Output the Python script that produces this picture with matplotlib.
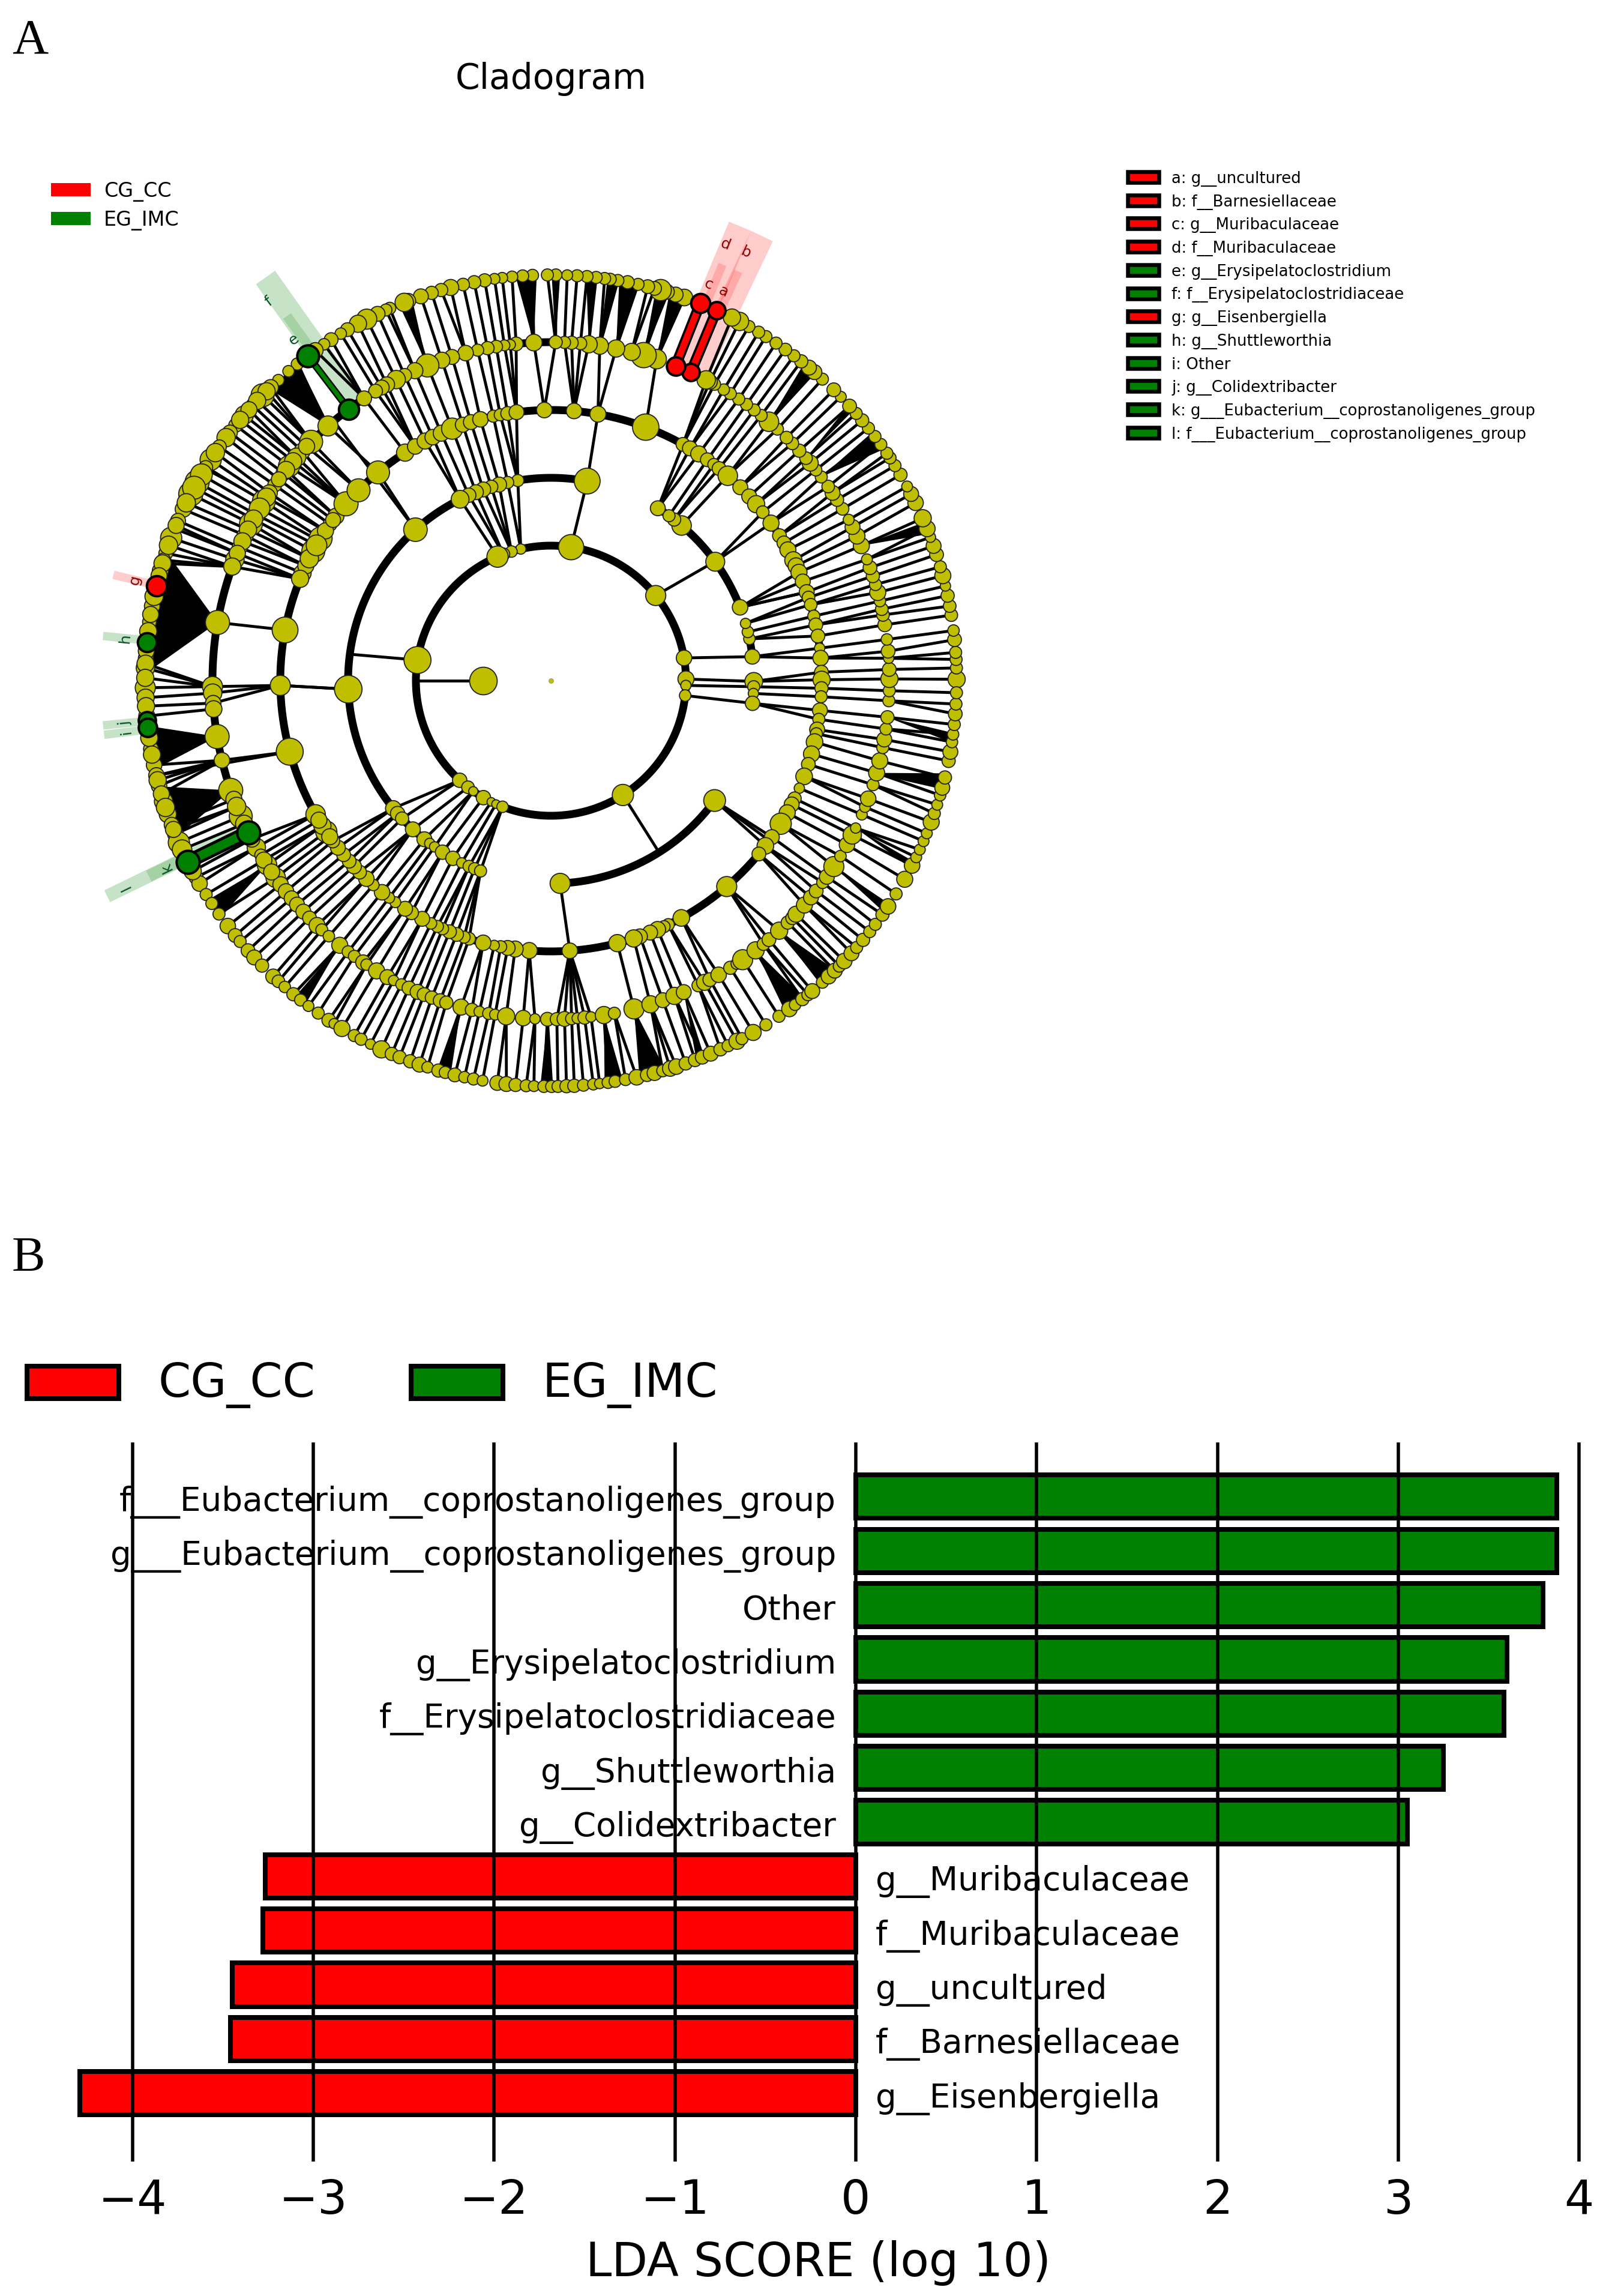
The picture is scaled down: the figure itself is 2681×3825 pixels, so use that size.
import numpy as np
import matplotlib
matplotlib.use('Agg')
import matplotlib.pyplot as plt
from matplotlib.patches import Polygon, Rectangle

W, H = 2681, 3825
DPI = 100
PT = 72 / DPI  # pixels to points
SIZE_SCALE = 1 / 2.09

# ---- bar chart data
bar_labels = ['g__Eisenbergiella', 'f__Barnesiellaceae', 'g__uncultured', 'f__Muribaculaceae', 'g__Muribaculaceae',
              'g__Colidextribacter', 'g__Shuttleworthia', 'f__Erysipelatoclostridiaceae', 'g__Erysipelatoclostridium',
              'Other', 'g___Eubacterium__coprostanoligenes_group', 'f___Eubacterium__coprostanoligenes_group']
bar_values = [-4.29, -3.46, -3.45, -3.28, -3.265, 3.05, 3.25, 3.585, 3.60, 3.80, 3.875, 3.875]
x_ticks = [-4, -3, -2, -1, 0, 1, 2, 3, 4]

# ---- cladogram legend
legend_rows = [('a: g__uncultured', 'r'), ('b: f__Barnesiellaceae', 'r'), ('c: g__Muribaculaceae', 'r'),
               ('d: f__Muribaculaceae', 'r'), ('e: g__Erysipelatoclostridium', 'g'),
               ('f: f__Erysipelatoclostridiaceae', 'g'), ('g: g__Eisenbergiella', 'r'), ('h: g__Shuttleworthia', 'g'),
               ('i: Other', 'g'), ('j: g__Colidextribacter', 'g'), ('k: g___Eubacterium__coprostanoligenes_group', 'g'),
               ('l: f___Eubacterium__coprostanoligenes_group', 'g')]

# ---- cladogram nodes, (angle in degrees, node radius)
ring_radius = [0, 113, 225, 338, 451, 564, 676]

ring1_nodes = [(180, 48)]
ring2_nodes = [(81.4, 44), (39.1, 35), (9.7, 27), (0.7, 28), (-2, 18), (-6.3, 20), (-57.8, 37), (227.5, 25), (232.1, 22),
               (234.9, 16), (240, 25), (243.8, 15), (246, 15), (249, 20), (102.9, 18), (107, 20), (110.6, 22), (113.3, 37),
               (171.2, 47)]
ring3_nodes = [(79.7, 44), (99.4, 18), (102.3, 18), (104.8, 25), (107.1, 20), (109.5, 25), (111.7, 25), (113.9, 22),
               (116.6, 30), (131.9, 40), (182.4, 47), (219, 26), (220.9, 22), (222.8, 20), (227.1, 25), (231.4, 25),
               (233.3, 15), (235, 15), (237.7, 22), (241.1, 22), (243.9, 15), (246.2, 18), (247.9, 18), (249.7, 18),
               (272.6, 34), (323.8, 37), (-0.2, 30), (-1.7, 18), (-3.6, 15), (-6.4, 22), (6.8, 25), (11.9, 17), (13.9, 17),
               (16.4, 15), (21.2, 26), (35.9, 32), (49.9, 33), (52.6, 20), (54.4, 18), (58.2, 25)]
ring4_nodes = [(91.4, 25), (85.1, 25), (80, 26), (69.5, 44), (60.8, 18), (59.1, 20), (56.9, 22), (54.7, 18), (53, 15),
               (51.6, 18), (49.2, 32), (45.6, 20), (42.9, 20), (40.7, 24), (38.5, 16), (35.6, 22), (32.4, 18), (30.6, 18),
               (28.9, 22), (26.4, 28), (25.1, 22), (23.6, 22), (21.5, 20), (19.1, 20), (17.9, 16), (16.3, 16), (13.8, 15),
               (11.9, 18), (9.5, 18), (6.9, 12), (4.8, 25), (1.8, 18), (0.2, 28), (-1.6, 17), (-3.4, 15), (-6.3, 20),
               (-8.2, 15), (-10.4, 20), (-11.3, 15), (-13.1, 23), (-15.7, 22), (-18, 18), (-20.7, 27), (-23.4, 12),
               (-25.8, 17), (-27.2, 20), (-29.2, 22), (-31.9, 35), (-35.3, 20), (-37.6, 23), (-39.8, 18), (-49.5, 33),
               (-61.2, 27), (-64.3, 15), (-65.3, 15), (-66.8, 22), (-68.5, 20), (-70.8, 20), (-72.2, 28), (-75.8, 28),
               (-86, 25), (265.4, 22), (262.4, 22), (260.8, 20), (259.3, 15), (257.9, 12), (255.5, 25), (252.4, 16),
               (251.3, 15), (249.6, 18), (248, 18), (246.4, 15), (245.2, 15), (243.7, 14), (241.6, 20), (239, 18),
               (237.4, 20), (234.9, 13), (233.3, 13), (231.4, 25), (229, 14), (227, 25), (225, 18), (223.3, 20), (221.8, 18),
               (220, 18), (218.1, 20), (216.3, 18), (213.9, 35), (209.6, 32), (195.2, 45), (181, 33), (169.2, 43),
               (156.6, 28), (154.9, 22), (151.4, 38), (148.9, 30), (148.3, 38), (144.7, 18), (142.6, 22), (139.2, 40),
               (135.3, 38), (129.7, 38), (122.6, 28), (120.1, 25), (117.7, 22), (115.9, 25), (113.9, 22), (111.4, 35),
               (109, 20), (107.2, 20), (105.1, 25), (102.3, 15), (100.8, 15), (99.2, 18), (97.3, 20),
               (146.4, 26), (153.2, 30), (157.9, 24), (150, 34), (143.6, 20), (212.4, 24), (215.2, 22), (211, 26)]
ring5_nodes = [(92.9, 27), (95.9, 18), (96.9, 12), (97.9, 13), (99.3, 16), (100.8, 17), (102.5, 15), (104.6, 25), (107, 20),
               (108.8, 22), (111.4, 38), (113.7, 22), (115.6, 18), (117.2, 30), (119, 25), (120, 20), (121.2, 18), (123.5, 20),
               (131.2, 33), (135.1, 38), (137.3, 22), (138.7, 30), (140.7, 35), (142.2, 20), (144.7, 18), (146.3, 22),
               (148, 38), (150.6, 30), (152.4, 38), (154.6, 22), (156.8, 20), (159, 30), (170.1, 40), (181, 33), (182.1, 30),
               (183.8, 25), (184.8, 23), (189.5, 40), (193.6, 25), (198.9, 40), (203.6, 38), (209.5, 30), (211, 15), (213, 32),
               (215.6, 32), (217, 25), (218.5, 25), (220, 20), (221.4, 20), (223, 20), (224.5, 18), (226.3, 22), (227.4, 15),
               (229, 14), (231.4, 26), (233.2, 15), (234.5, 15), (236.3, 20), (237, 14), (239, 22), (241.1, 20), (242.3, 12),
               (243.8, 14), (245.2, 18), (246.8, 20), (248, 18), (249.4, 17), (250.9, 18), (252, 17), (254.6, 26), (256.5, 17),
               (257.8, 13), (259.4, 15), (260.5, 13), (262.4, 24), (265.3, 25), (267.3, 12), (269.4, 18), (271, 17), (272.3, 20),
               (273.5, 15), (274.5, 13), (275.7, 17), (276.8, 12), (279, 24), (280.8, 15), (284.2, 33), (287.1, 24), (289.3, 20),
               (291.4, 24), (293.1, 20), (295.8, 16), (297, 22), (298, 18), (299.7, 25), (302, 17), (303.3, 14), (304.5, 33),
               (307.2, 28), (308.9, 16), (310.1, 18), (312.4, 28), (314.4, 17), (315.5, 17), (316.4, 22), (318.5, 22),
               (320.2, 20), (321.6, 18), (323.4, 15), (324.6, 20), (326.7, 33), (328.8, 14), (331, 25), (332.9, 30), (334.2, 12),
               (336.7, 13), (338.1, 13), (339.6, 25), (342.1, 15), (344.2, 22), (346.3, 22), (348.6, 15), (350, 20), (351.8, 15),
               (353.8, 17), (356.6, 15), (358.3, 15), (0.3, 28), (1.9, 18), (3.8, 12), (5, 18), (7, 14), (9.5, 18), (11.2, 16),
               (12.2, 16), (13.6, 14), (15.1, 22), (16.5, 15), (18, 17), (19.5, 18), (21, 13), (23.5, 22), (25.3, 22), (27, 20),
               (28.4, 13), (30.5, 16), (32.3, 17), (33.7, 20), (35, 16), (37, 15), (38.5, 15), (40, 22), (41.1, 16), (42.8, 17),
               (44.5, 16), (45.9, 16), (48, 15), (49.9, 32), (51.6, 15), (53.1, 15), (54.7, 15), (56.3, 15), (58, 15), (59.3, 14),
               (61.1, 15), (62, 20), (62.7, 30), (71.8, 32), (74.1, 42), (76.2, 28), (78.9, 24), (81.7, 24), (83.6, 24), (85, 16),
               (86.5, 17), (87.7, 15), (89.2, 17),
               (136.2, 26), (139.6, 24), (141.5, 28), (143.5, 20), (147.2, 30), (149.4, 34), (151.5, 30), (153.5, 28),
               (155.7, 24), (157.9, 26), (160.3, 24), (200.5, 26), (201.8, 30), (205, 28), (207.9, 26), (212, 22), (214.4, 26)]
ring6_nodes = [(0.2, 28), (1.8, 15), (3, 15), (4, 15), (5.8, 18), (7.1, 14), (9.3, 16), (10.6, 16), (12.1, 17), (13.5, 12),
               (15, 22), (16.3, 15), (18.1, 18), (19.4, 20), (20.7, 12), (22, 22), (23.6, 24), (26, 25), (27.4, 20), (28.6, 13),
               (30.5, 17), (32, 15), (33.3, 15), (34.1, 15), (35.6, 15), (37, 15), (38.5, 15), (39.9, 17), (41.2, 15), (42.6, 18),
               (44.4, 13), (45.8, 18), (48, 15), (49.5, 20), (50.5, 20), (51.9, 17), (53.2, 15), (54.7, 16), (56.3, 15), (58, 15),
               (59.2, 15), (60.8, 15), (62.3, 30), (63.5, 28), (70.8, 23), (72.1, 20), (73.4, 20), (74.3, 35), (75.2, 18),
               (76.2, 18), (77.6, 15), (79.1, 17), (80.5, 15), (81.6, 15), (82.4, 15), (83.6, 15), (84.9, 15), (86.3, 15),
               (87.7, 13), (89.3, 15), (90.5, 15), (92.6, 15), (94, 15), (95.5, 14), (96.9, 13), (98, 13), (99.4, 17), (100.9, 17),
               (102.5, 16), (104.3, 22), (105.7, 17), (107.1, 17), (108.7, 20), (110.6, 20), (111.2, 30), (113.4, 15), (114, 15),
               (115.3, 20), (117, 33), (118.4, 28), (120.1, 18), (121.2, 14), (122.8, 18), (124, 14), (125.5, 25), (128.7, 15),
               (130.3, 14), (132.2, 14), (133.7, 25), (135.3, 38), (137.3, 18), (139.1, 30), (141, 18), (142.3, 20), (143.2, 30),
               (144.8, 18), (147, 35), (148.3, 18), (150.7, 40), (152.6, 40), (155, 22), (156.8, 20), (158, 16), (159.4, 35),
               (161.7, 18), (162.7, 18), (164.3, 22), (169.4, 25), (171.7, 18), (176.8, 20), (178.2, 30), (181, 33), (182.4, 28),
               (185, 22), (189.7, 20), (191, 15), (192, 25), (193.5, 25), (195, 25), (197.3, 30), (199.2, 28), (200.8, 20),
               (202.2, 25), (203.5, 35), (209, 18), (210, 25), (211.8, 15), (213.3, 15), (215.1, 15), (217.2, 25), (218.9, 18),
               (220, 15), (221.7, 18), (223, 20), (224.6, 17), (226.8, 20), (227.8, 16), (229, 14), (230.6, 17), (231.9, 15),
               (233.3, 13), (235, 15), (236.8, 18), (237.7, 12), (239, 22), (241, 15), (242.1, 15), (243.6, 12), (245.3, 24),
               (246.9, 17), (248.1, 17), (249.7, 17), (251.1, 20), (252.3, 14), (253.9, 17), (254.9, 15), (256.3, 18), (257.7, 14),
               (259, 15), (260.3, 13), (262.4, 20), (263.7, 20), (265, 17), (266.5, 15), (267.6, 13), (269, 15), (270.1, 15),
               (271, 15), (272.2, 17), (273.3, 17), (274.6, 15), (276, 14), (276.9, 12), (278.1, 15), (279.1, 15), (280.6, 15),
               (282.2, 25), (283.7, 17), (284.8, 20), (286, 15), (287.1, 25), (288, 25), (289.4, 17), (290.8, 17), (291.9, 18),
               (293.2, 20), (294.7, 17), (295.9, 15), (297.3, 22), (298.1, 15), (299.9, 22), (302, 15), (304.2, 15), (306, 25),
               (307, 14), (308.3, 17), (309.3, 15), (310.1, 20), (312, 15), (313.2, 20), (314.4, 20), (315.3, 15), (316.3, 25),
               (317.8, 20), (318.9, 15), (320.3, 17), (321.8, 15), (323.1, 15), (324.8, 17), (326.2, 25), (328.3, 15), (330.7, 22),
               (332.9, 25), (334.2, 13), (335.4, 13), (336.7, 13), (337.9, 13), (339.6, 22), (340.9, 15), (342.2, 13), (343.6, 14),
               (344.7, 20), (346.2, 17), (348.6, 17), (349.9, 20), (351.3, 14), (352.4, 14), (353.8, 15), (355.3, 18), (356.7, 15),
               (358.3, 15),
               (134.5, 28), (136.4, 24), (138.1, 26), (140, 28), (145.8, 30), (149.5, 36), (151.6, 38), (154, 30), (157.5, 26),
               (160.5, 30), (163.2, 28), (165, 26), (168, 30), (170.6, 26), (173, 28), (175.8, 26), (177.6, 24), (179.6, 28),
               (183.6, 24), (188.1, 28), (190.5, 24), (194.2, 28), (196.2, 26), (198.2, 30), (201.5, 26), (204.6, 32), (208, 28)]

# parent -> child pairs between ring 2 and ring 3
ring2_to_ring3 = [(81.4, 79.7), (9.7, 6.8), (0.7, -0.2), (-2, -1.7), (-6.3, -6.4), (113.3, 116.6), (110.6, 113.9), (110.6, 111.7),
                  (107, 109.5), (107, 107.1), (107, 104.8), (102.9, 102.3), (102.9, 99.4), (39.1, 36), (171.2, 172.5),
                  (-57.8, -57.8), (227.5, 219), (227.5, 222.8), (232.1, 227.1), (234.9, 231.4), (234.9, 235), (240, 237.7),
                  (243.8, 241.1), (246, 243.9), (249, 246.2), (249, 247.9), (249, 249.7)]
# links that skip a ring or end on an arc: (ring, angle, ring, angle)
extra_links = [(1, 180, 2, 180), (3, -36.2, 4, -36.2), (3, 131.9, 5, 129.9), (4, 195.2, 6, 193.5), (3, 21.2, 4, 19.1),
               (3, 182.4, 4, 181)]
# black arcs: (ring, start angle, end angle)
arcs = [(2, 0, 360), (3, 21.2, 58.2), (3, 79.7, 249.7), (3, 272.6, 323.8), (3, -6.4, 0), (3, 6.8, 16.4), (4, 4.8, 320.2),
        (5, 72, 206.6)]
# black fans from a ring 5 node: (parent angle, first child angle, last child angle)
fans = [(170.1, 161.5, 179), (131.2, 128.4, 134), (189.5, 186.4, 192.6), (198.9, 195.1, 202.7), (89.2, 88.7, 89.9),
        (83.6, 83.4, 85), (81.7, 80.5, 82), (78.9, 77.8, 80.3), (74.1, 73, 75), (71.8, 71, 73), (49.9, 49.5, 51.4),
        (37, 34.8, 37.7), (41.1, 41.8, 42.8), (23.5, 21.2, 23), (353.8, 351.2, 352.6), (344.2, 344.6, 346.8),
        (334.2, 332.5, 333.5), (326.7, 325.2, 326.6), (312.4, 311.6, 314.5), (307.2, 305.3, 308.6), (293.1, 291, 292.2),
        (284.2, 282.6, 286.4), (279, 277.6, 280.2), (269.4, 268.5, 270), (254.6, 254, 255.7), (231.4, 231, 232.8),
        (213, 212.6, 215.6), (111.4, 110, 112), (148, 148, 148.7), (92.9, 92, 95)]
# highlighted clades: (ring, angle, colour, node radius)
marked_nodes = [(5, 65.6, 'red', 30), (5, 68.4, 'red', 32), (6, 65.9, 'red', 30), (6, 68.4, 'red', 33),
                (5, 126.7, 'green', 35), (6, 126.8, 'green', 38), (6, 166.5, 'red', 35), (6, 174.6, 'green', 33),
                (6, 185.6, 'green', 30), (6, 186.6, 'green', 32), (5, 206.6, 'green', 40), (6, 206.5, 'green', 40)]
marked_links = [(65.6, 65.9, 'red', 18), (68.4, 68.4, 'red', 18), (126.7, 126.8, 'green', 12), (206.6, 206.5, 'green', 24)]
# shaded bands: (label, band angle, inner radius, outer radius, width, colour, alpha, label angle, label radius)
bands = [('b', 64.6, 564, 820, 40, 'red', 0.2, 65.5, 784), ('d', 67.4, 564, 820, 40, 'red', 0.2, 68.2, 782),
         ('a', 65.4, 676, 750, 14, 'red', 0.17, 66.1, 709), ('c', 67.6, 676, 750, 14, 'red', 0.17, 68.3, 710),
         ('f', 125.3, 564, 823, 39, 'green', 0.22, 126.7, 787), ('e', 125.9, 676, 750, 16, 'green', 0.17, 127, 712),
         ('g', 166.4, 676, 750, 14, 'red', 0.2, 166.4, 713), ('h', 174.3, 676, 750, 14, 'green', 0.22, 174.3, 713),
         ('i', 186.9, 676, 750, 14, 'green', 0.22, 186.9, 713), ('j', 185.7, 676, 750, 14, 'green', 0.22, 185.7, 713),
         ('l', 205.9, 564, 822, 22, 'green', 0.22, 205.9, 787), ('k', 205.9, 676, 745, 20, 'green', 0.17, 205.9, 712)]


def polar(r, a):
    a = np.radians(a)
    return r * np.cos(a), r * np.sin(a)


def angle_gap(a, b):
    return abs((a - b + 180) % 360 - 180)


def link(ax, r1, a1, r2, a2, lw=4.8, color='black', z=2):
    x1, y1 = polar(r1, a1)
    x2, y2 = polar(r2, a2)
    ax.plot([x1, x2], [y1, y2], color=color, lw=lw * PT, zorder=z, solid_capstyle='butt')


def link_to_nearest(ax, children, parents, r_child, r_parent, limit):
    parent_angles = [p[0] for p in parents]
    for a, _ in children:
        gaps = [angle_gap(a, p) for p in parent_angles]
        i = int(np.argmin(gaps))
        if gaps[i] <= limit:
            link(ax, r_parent, parent_angles[i], r_child, a)


def draw_nodes(ax, nodes, r, pad=0):
    ang = np.array([n[0] for n in nodes])
    size = np.array([n[1] for n in nodes], dtype=float)
    # small nodes read a little under their drawn size in the crops
    size = np.where(size < 25, size + pad, size + pad / 3) * SIZE_SCALE
    x, y = polar(r, ang)
    ax.scatter(x, y, s=(2 * size * PT) ** 2, c='#bfbf00', edgecolors='#222222', linewidths=1.8 * PT, zorder=5)


fig = plt.figure(figsize=(W / DPI, H / DPI), dpi=DPI)

# Cladogram, one data unit is one pixel, origin at the tree root
ax = fig.add_axes([0, 1 - 2060 / H, 1, 2060 / H])
ax.set_xlim(-918, W - 918)
ax.set_ylim(1134 - 2060, 1134)
ax.axis('off')

for ring, a, b in arcs:
    t = np.radians(np.linspace(a, b, 400))
    ax.plot(ring_radius[ring] * np.cos(t), ring_radius[ring] * np.sin(t), color='black', lw=13 * PT, zorder=3,
            solid_capstyle='butt')

for parent, a, b in fans:
    pts = [polar(564, parent), polar(676, a), polar(676, b)]
    ax.add_patch(Polygon(pts, closed=True, color='black', lw=0, zorder=2))

link_to_nearest(ax, ring6_nodes, ring5_nodes, 676, 564, 3.5)
link_to_nearest(ax, ring5_nodes, ring4_nodes, 564, 451, 3)
link_to_nearest(ax, ring4_nodes, ring3_nodes, 451, 338, 3)
for p, c in ring2_to_ring3:
    link(ax, 225, p, 338, c)
for r1, a1, r2, a2 in extra_links:
    link(ax, ring_radius[r1], a1, ring_radius[r2], a2)

for label, a, r0, r1, w, col, alpha, a_text, r_text in bands:
    x0, y0 = polar(r0, a)
    x1, y1 = polar(r1, a)
    nx, ny = polar(w / 2, a + 90)
    ax.add_patch(Polygon([(x0 + nx, y0 + ny), (x1 + nx, y1 + ny), (x1 - nx, y1 - ny), (x0 - nx, y0 - ny)], closed=True,
                         facecolor=col, edgecolor='none', alpha=alpha, zorder=1))
    tx, ty = polar(r_text, a_text)
    ax.text(tx, ty, label, rotation=a_text - 90, rotation_mode='anchor', ha='center', va='center', fontsize=18,
            color='#8b0000' if col == 'red' else '#005020', zorder=6)

for a_in, a_out, col, w in marked_links:
    link(ax, 564, a_in, 676, a_out, lw=w, color='black', z=6)
    link(ax, 564, a_in, 676, a_out, lw=w * 0.6, color=col, z=6)

draw_nodes(ax, ring1_nodes, ring_radius[1])
draw_nodes(ax, ring2_nodes, ring_radius[2])
draw_nodes(ax, ring3_nodes, ring_radius[3], pad=3)
draw_nodes(ax, ring4_nodes, ring_radius[4], pad=6)
draw_nodes(ax, ring5_nodes, ring_radius[5], pad=6)
draw_nodes(ax, ring6_nodes, ring_radius[6], pad=6)
ax.scatter([0], [0], s=(8 * PT) ** 2, c='#bfbf00', edgecolors='#888888', linewidths=0.5, zorder=5)

for ring, a, col, size in marked_nodes:
    x, y = polar(ring_radius[ring], a)
    ax.scatter([x], [y], s=(2 * size * SIZE_SCALE * PT) ** 2, c=col, edgecolors='black', linewidths=4 * PT, zorder=7)

# LDA bar chart
bx = fig.add_axes([0, 1 - 3601 / H, 1, (3601 - 2403) / H])
bx.set_xlim((0 - 1426) / 301.3, (W - 1426) / 301.3)
bx.set_ylim(-1.26, 12.0)
ypos = np.arange(len(bar_values))
bar_colors = ['red' if v < 0 else 'green' for v in bar_values]
bx.barh(ypos, bar_values, height=0.8, color=bar_colors, edgecolor='black', linewidth=8 * PT, zorder=2)
bx.set_xticks(x_ticks)
bx.set_yticks([])
bx.tick_params(axis='x', length=0, labelsize=56, pad=27 * PT)
bx.grid(axis='x', color='black', lw=5.5 * PT, zorder=3)
bx.set_axisbelow(False)
for side in bx.spines.values():
    side.set_visible(False)
bx.patch.set_alpha(0)
for y, v, name in zip(ypos, bar_values, bar_labels):
    if v < 0:
        bx.text(33 / 301.3, y - 0.1, name, ha='left', va='center', fontsize=39.5, zorder=4)
    else:
        bx.text(-33 / 301.3, y - 0.1, name, ha='right', va='center', fontsize=39.5, zorder=4)

# Titles and legends, placed in pixel coordinates
over = fig.add_axes([0, 0, 1, 1])
over.set_xlim(0, W)
over.set_ylim(H, 0)
over.axis('off')
over.text(20, 69, 'A', family='Liberation Serif', fontsize=60, va='center')
over.text(20, 2097, 'B', family='Liberation Serif', fontsize=60, va='center')
over.text(918, 132, 'Cladogram', ha='center', va='center', fontsize=42)

over.add_patch(Rectangle((85, 305), 66, 22, color='red', lw=0))
over.add_patch(Rectangle((85, 353), 66, 22, color='green', lw=0))
over.text(173, 320, 'CG_CC', va='center', fontsize=24)
over.text(173, 368, 'EG_IMC', va='center', fontsize=24)

for i, (row, col) in enumerate(legend_rows):
    y = 295 + i * 38.7
    over.add_patch(Rectangle((1879, y - 9), 52, 18, facecolor='red' if col == 'r' else 'green', edgecolor='black',
                             lw=6.5 * PT))
    over.text(1952, y + 3, row, va='center', fontsize=18.75)

over.add_patch(Rectangle((45, 2276), 153, 54, facecolor='red', edgecolor='black', lw=8 * PT))
over.add_patch(Rectangle((685, 2276), 153, 54, facecolor='green', edgecolor='black', lw=8 * PT))
over.text(264, 2308, 'CG_CC', va='center', fontsize=56)
over.text(903, 2308, 'EG_IMC', va='center', fontsize=56)
over.text(1363, 3770, 'LDA SCORE (log 10)', ha='center', va='center', fontsize=56)

fig.savefig('out.png', dpi=DPI, facecolor='white')
